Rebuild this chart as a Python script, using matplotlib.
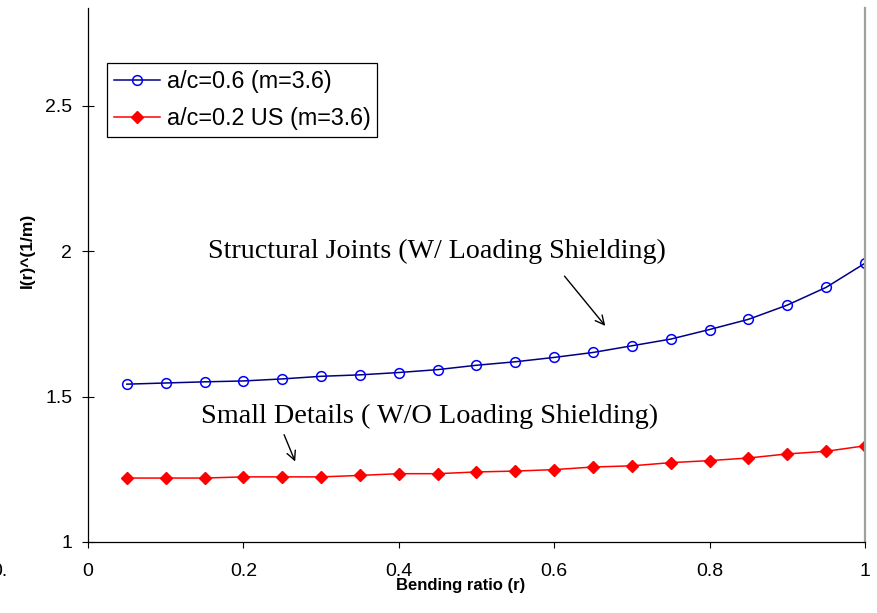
import matplotlib
matplotlib.use("Agg")
import matplotlib.pyplot as plt

# bending ratio r
r = [0.05, 0.10, 0.15, 0.20, 0.25, 0.30, 0.35, 0.40, 0.45, 0.50,
     0.55, 0.60, 0.65, 0.70, 0.75, 0.80, 0.85, 0.90, 0.95, 1.00]

# a/c = 0.6, with loading shielding
joints = [1.543, 1.547, 1.551, 1.554, 1.561, 1.570, 1.575, 1.583, 1.593, 1.608,
          1.620, 1.635, 1.652, 1.675, 1.698, 1.731, 1.766, 1.815, 1.876, 1.959]

# a/c = 0.2 US, without loading shielding
details = [1.220, 1.220, 1.220, 1.224, 1.224, 1.224, 1.229, 1.235, 1.235, 1.241,
           1.244, 1.249, 1.258, 1.262, 1.273, 1.280, 1.289, 1.303, 1.312, 1.331]

x_ticks = [0, 0.2, 0.4, 0.6, 0.8, 1]
x_tick_labels = ['0', '0.2', '0.4', '0.6', '0.8', '1']
y_ticks = [1, 1.5, 2, 2.5]
y_tick_labels = ['1', '1.5', '2', '2.5']

plt.rcParams['font.family'] = ['Liberation Sans', 'DejaVu Sans']

fig = plt.figure(figsize=(8.78, 6.13), dpi=100)
ax = fig.add_axes([88/878, 1 - 542/613, 777/878, 534/613])

ax.plot(r, joints, color='navy', lw=1.1, marker='o', ms=7,
        mfc='none', mec='blue', mew=1.1, label='a/c=0.6 (m=3.6)')
ax.plot(r, details, color='red', lw=1.1, marker='D', ms=6.0,
        mfc='red', mec='red', label='a/c=0.2 US (m=3.6)')

ax.set_xlim(0, 1)
ax.set_ylim(1, 2.837)
ax.set_xticks(x_ticks)
ax.set_xticklabels(x_tick_labels)
ax.set_yticks(y_ticks)
ax.set_yticklabels(y_tick_labels)
ax.tick_params(axis='x', direction='out', length=4.5, width=0.8, pad=10.5, labelsize=14)
ax.tick_params(axis='y', direction='inout', length=8.5, width=0.8, pad=7, labelsize=14)

ax.spines['top'].set_visible(False)
ax.spines['right'].set_color('#a0a0a0')
ax.spines['right'].set_linewidth(1.6)
ax.spines['left'].set_linewidth(0.9)
ax.spines['bottom'].set_linewidth(0.9)

ax.set_xlabel('Bending ratio (r)', fontsize=12, fontweight='bold')
ax.xaxis.set_label_coords(0.48, -0.082)
ax.xaxis.label.set_va('center')
ax.set_ylabel('I(r)^(1/m)', fontsize=12.5, fontweight='bold')
ax.yaxis.set_label_coords(-0.0785, 0.547)
ax.yaxis.label.set_va('center')

leg = ax.legend(loc='upper left', bbox_to_anchor=(0.0245, 0.897), borderaxespad=0,
                fontsize=16.8, fancybox=False, framealpha=1, edgecolor='black',
                handlelength=1.95, handletextpad=0.3, labelspacing=0.62,
                borderpad=0.3)
leg.get_frame().set_linewidth(0.9)

# annotations in Times-like serif
ax.text(0.155, 1.977, 'Structural Joints (W/ Loading Shielding)', family='Liberation Serif',
        fontsize=20.2, ha='left', va='baseline')
ax.annotate('', xy=(0.668, 1.736), xytext=(0.611, 1.922),
            arrowprops=dict(arrowstyle='->', color='black', lw=1.0, mutation_scale=16))
ax.text(0.146, 1.409, 'Small Details ( W/O Loading Shielding)', family='Liberation Serif',
        fontsize=20.3, ha='left', va='baseline')
ax.annotate('', xy=(0.268, 1.268), xytext=(0.251, 1.378),
            arrowprops=dict(arrowstyle='->', color='black', lw=1.0, mutation_scale=16))

# clipped label remnant at the left edge
fig.text(8/878, 1 - 572/613, '0.', fontsize=14, ha='right', va='center')

fig.savefig('out.png', dpi=100)
